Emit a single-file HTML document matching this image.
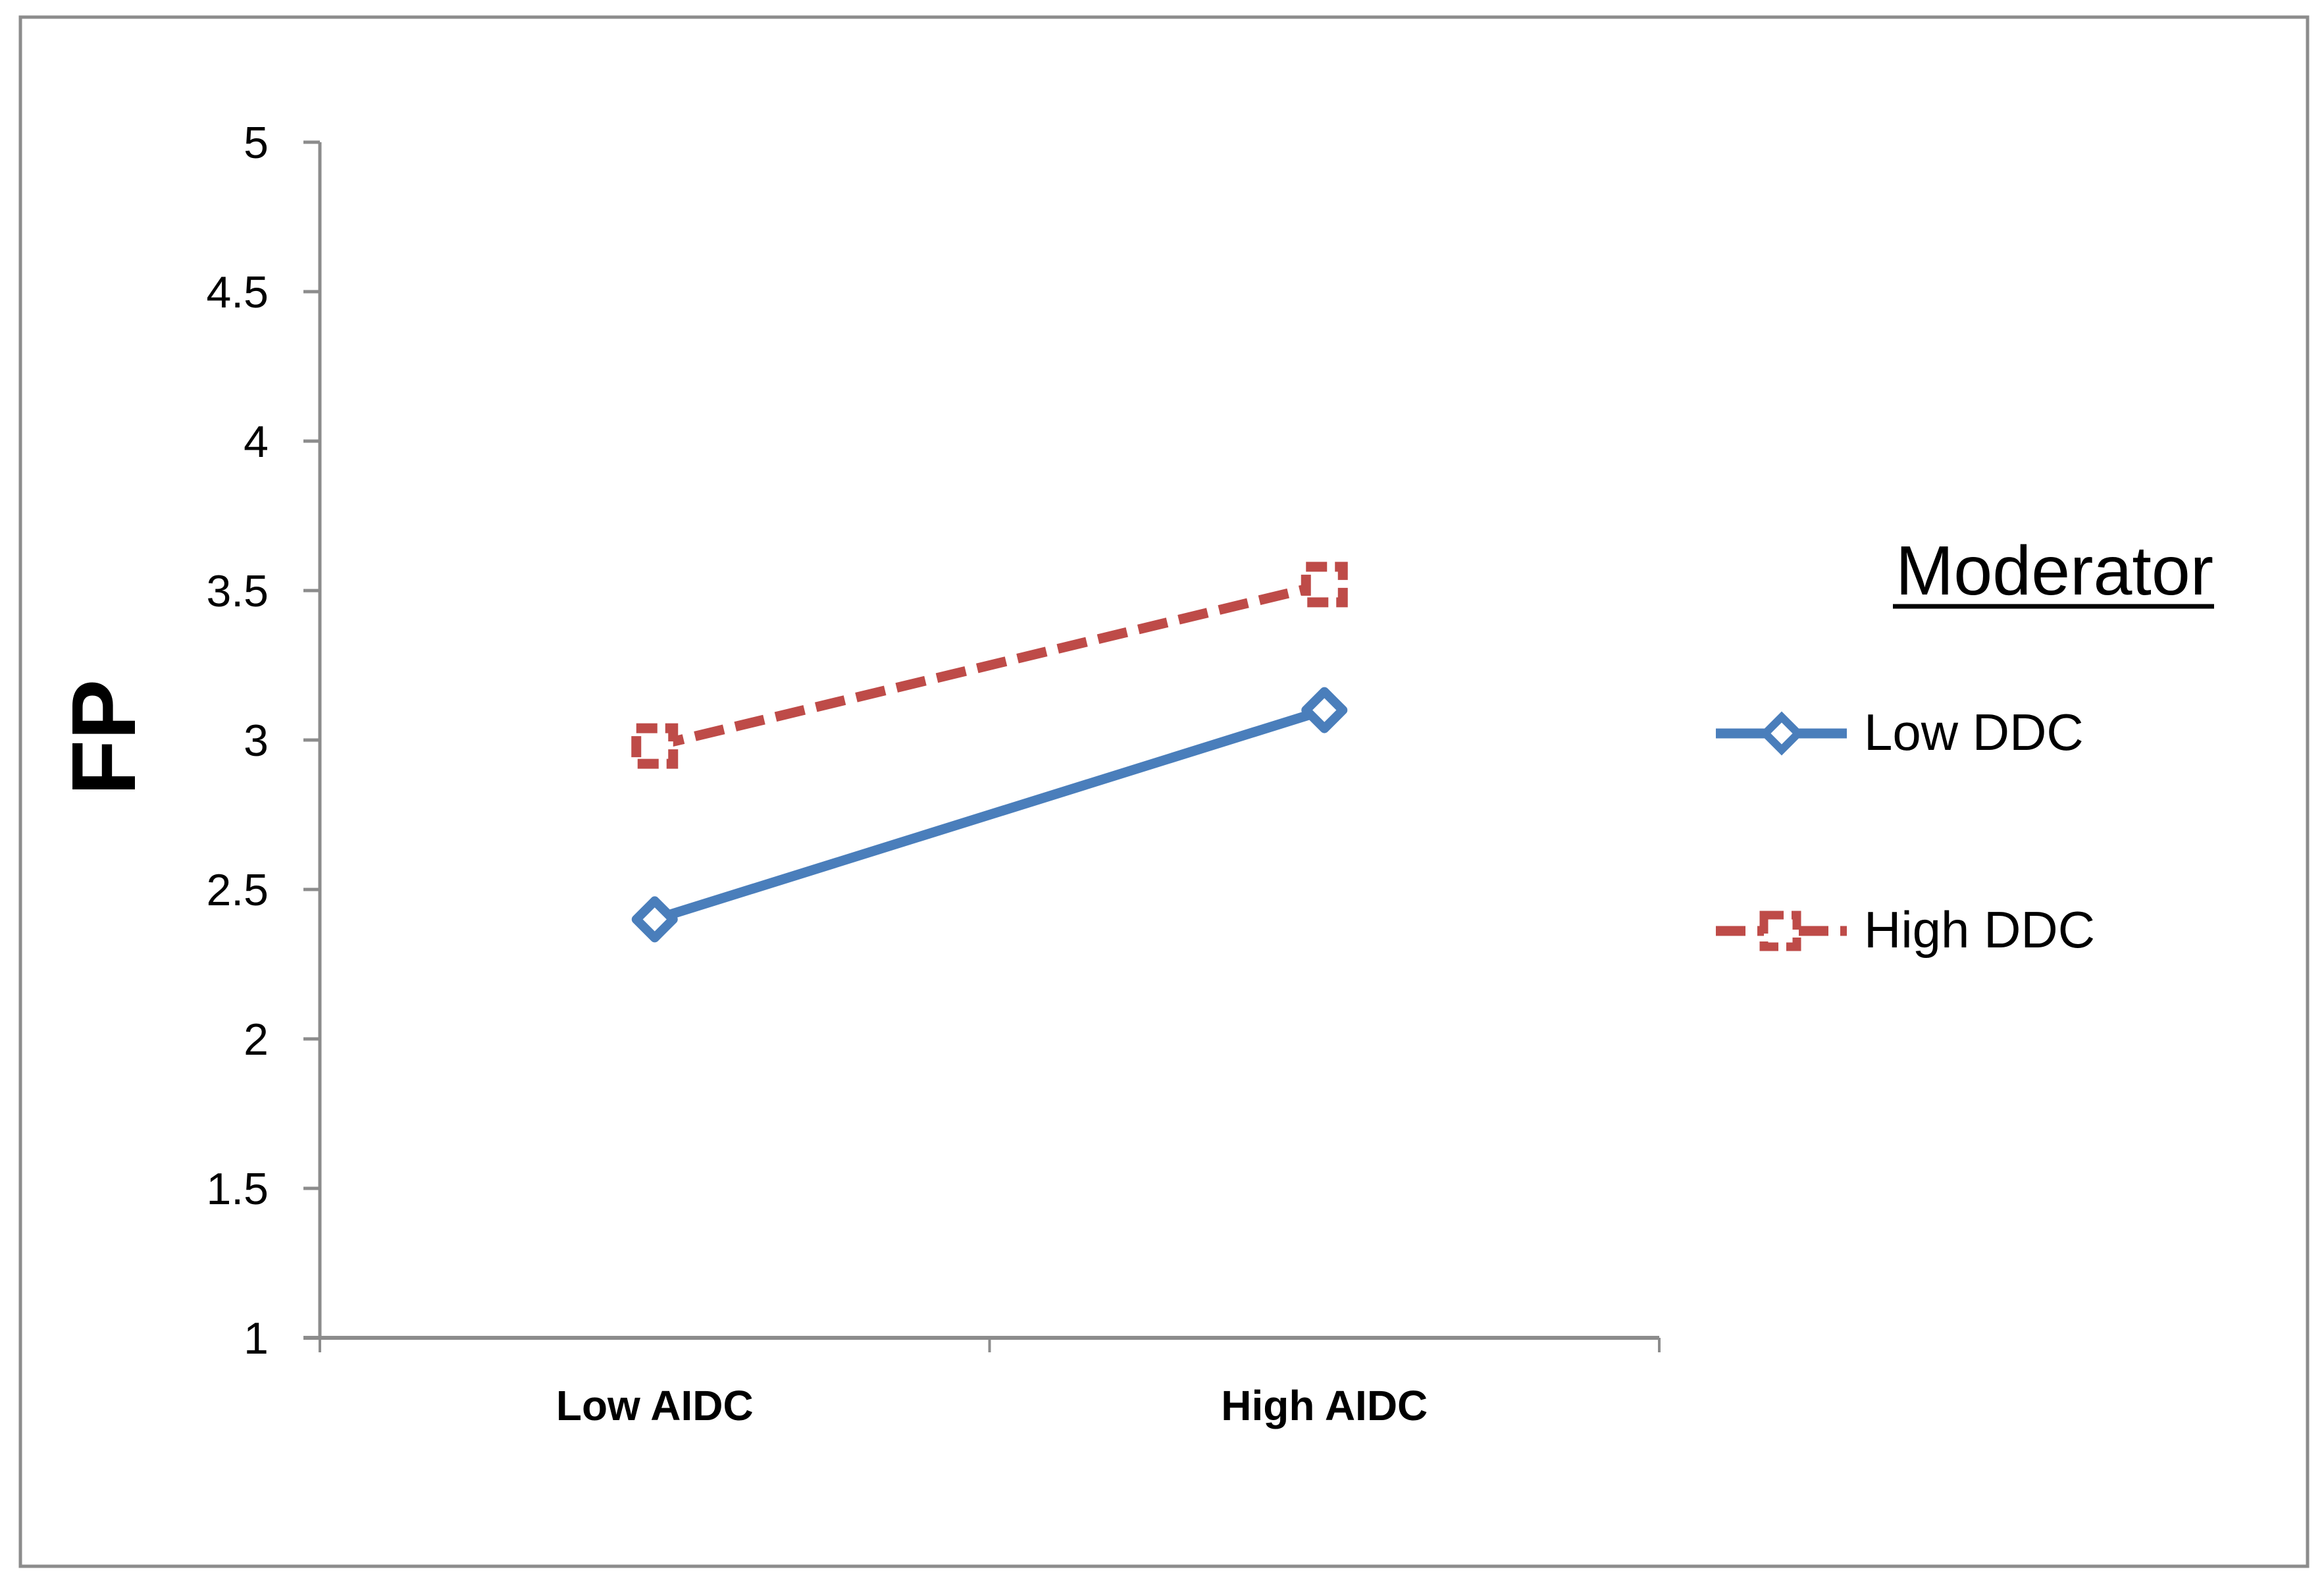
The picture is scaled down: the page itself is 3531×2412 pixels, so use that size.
<!DOCTYPE html>
<html><head><meta charset="utf-8"><style>
html,body{margin:0;padding:0;background:#fff;}
svg{display:block;}
text{font-family:"Liberation Sans",sans-serif;}
</style></head><body>
<svg id="chart" width="3531" height="2412" viewBox="0 0 3531 2412" xmlns="http://www.w3.org/2000/svg">
<rect x="31" y="26" width="3475" height="2353" fill="#fff" stroke="#8c8c8c" stroke-width="5"/>
<g id="axes"></g>
<g id="series"></g>
<text x="0" y="0" transform="translate(205,1120) rotate(-90)" text-anchor="middle" font-size="138" font-weight="bold" fill="#000">FP</text>
<g>
<text x="2880" y="903" font-size="106" fill="#000">Moderator</text>
<line x1="2876" y1="921" x2="3364" y2="921" stroke="#000" stroke-width="7"/>
<g>
<line x1="2607" y1="1114" x2="2806" y2="1114" stroke="#4a7ebb" stroke-width="15"/>
<path d="M2707,1089 L2732,1114 L2707,1139 L2682,1114 Z" fill="#fff" stroke="#4a7ebb" stroke-width="12"/>
<text x="2832" y="1139" font-size="78" fill="#000">Low DDC</text>
</g>
<g>
<line x1="2607" y1="1414" x2="2806" y2="1414" stroke="#be4b48" stroke-width="15" stroke-dasharray="45,18"/>
<rect x="2680" y="1390" width="50" height="48" fill="#fff" stroke="#be4b48" stroke-width="13" stroke-dasharray="30,12"/>
<text x="2832" y="1439" font-size="78" fill="#000">High DDC</text>
</g>
</g>
</svg>
<script>
const categories = ["Low AIDC", "High AIDC"];
const lowDDC = [2.4, 3.1];
const highDDC = [2.98, 3.52];
const yTicks = [1, 1.5, 2, 2.5, 3, 3.5, 4, 4.5, 5];
const yTickLabels = ["1", "1.5", "2", "2.5", "3", "3.5", "4", "4.5", "5"];

const NS = "http://www.w3.org/2000/svg";
const X0 = 486, X1 = 2521, Y0 = 2032, Y1 = 216, YMIN = 1, YMAX = 5;
function yScale(v){ return Y0 - (v - YMIN) / (YMAX - YMIN) * (Y0 - Y1); }
function xScale(i){ const bw = (X1 - X0) / categories.length; return X0 + bw * (i + 0.5); }
function mk(tag, attrs, parent){ const e = document.createElementNS(NS, tag); for (const k in attrs) e.setAttribute(k, attrs[k]); parent.appendChild(e); return e; }

const axes = document.getElementById('axes');
const yAxis = mk('line', {x1:X0, y1:Y1, x2:X0, y2:Y0, stroke:'#8c8c8c', 'stroke-width':5}, axes);


yTicks.forEach((t, i) => {
  const y = yScale(t);
  const tk = mk('line', {x1:X0-25, y1:y, x2:X0, y2:y, stroke:'#8c8c8c', 'stroke-width':5}, axes);
  
  
  const lb = mk('text', {x:408, y:y+24, 'text-anchor':'end', 'font-size':68, fill:'#000'}, axes);
  lb.textContent = yTickLabels[i];
  
  
});
const xAxis = mk('line', {x1:X0-25, y1:Y0, x2:X1, y2:Y0, stroke:'#8c8c8c', 'stroke-width':6}, axes);


for (let i = 0; i <= categories.length; i++) {
  const x = X0 + (X1 - X0) / categories.length * i;
  const tk = mk('line', {x1:x, y1:Y0, x2:x, y2:Y0+22, stroke:'#8c8c8c', 'stroke-width':4}, axes);
  
  
}
categories.forEach((c, i) => {
  const lb = mk('text', {x:xScale(i), y:2157, 'text-anchor':'middle', 'font-size':64, 'font-weight':'bold', fill:'#000'}, axes);
  lb.textContent = c;
  
  
});

const series = document.getElementById('series');
const hp = highDDC.map((v, i) => xScale(i) + ',' + yScale(v)).join(' ');
const hl = mk('polyline', {points:hp, fill:'none', stroke:'#be4b48', 'stroke-width':15, 'stroke-dasharray':'45,18'}, series);


highDDC.forEach((v, i) => {
  const m = mk('rect', {x:xScale(i)-28, y:yScale(v)-27, width:56, height:54, fill:'#fff', stroke:'#be4b48', 'stroke-width':15, 'stroke-dasharray':'32,12'}, series);
  
  
});
const lp = lowDDC.map((v, i) => xScale(i) + ',' + yScale(v)).join(' ');
const ll = mk('polyline', {points:lp, fill:'none', stroke:'#4a7ebb', 'stroke-width':15}, series);


lowDDC.forEach((v, i) => {
  const cx = xScale(i), cy = yScale(v), r = 28;
  const m = mk('path', {d:`M${cx},${cy-r} L${cx+r},${cy} L${cx},${cy+r} L${cx-r},${cy} Z`, fill:'#fff', stroke:'#4a7ebb', 'stroke-width':14, 'stroke-linejoin':'round'}, series);
  
  
});
</script>
</body></html>
